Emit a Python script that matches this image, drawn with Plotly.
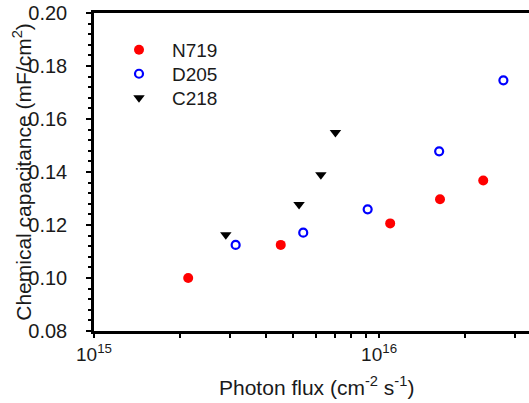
import plotly.graph_objects as go

# Data
n719_x = [2.14e15, 4.52e15, 1.094e16, 1.636e16, 2.32e16]
n719_y = [0.100, 0.1125, 0.1206, 0.1297, 0.1368]

d205_x = [3.14e15, 5.42e15, 9.12e15, 1.625e16, 2.73e16]
d205_y = [0.1125, 0.1171, 0.1259, 0.1478, 0.1746]

c218_x = [2.90e15, 5.24e15, 6.25e15, 7.03e15]
c218_y = [0.1163, 0.1277, 0.1390, 0.1549]

x_tickvals = [1e15, 2e15, 3e15, 4e15, 5e15, 6e15, 7e15, 8e15, 9e15, 1e16, 2e16, 3e16]
x_ticktext = ["10<sup>15</sup>", "", "", "", "", "", "", "", "", "10<sup>16</sup>", "", ""]
y_tickvals = [0.08, 0.10, 0.12, 0.14, 0.16, 0.18, 0.20]
y_ticktext = ["0.08", "0.10", "0.12", "0.14", "0.16", "0.18", "0.20"]

FONT = "Liberation Sans, Arial, sans-serif"
TXT = "#1a1a1a"

fig = go.Figure()
fig.add_trace(go.Scatter(x=n719_x, y=n719_y, mode="markers", name="N719", legend="legend",
                         marker=dict(symbol="circle", size=10, color="#FF0000")))
fig.add_trace(go.Scatter(x=d205_x, y=d205_y, mode="markers", name="D205", legend="legend2",
                         marker=dict(symbol="circle-open", size=8, color="#0000FF",
                                     line=dict(width=2.2, color="#0000FF"))))
fig.add_trace(go.Scatter(x=c218_x, y=c218_y, mode="markers", name="C218", legend="legend3",
                         marker=dict(symbol="triangle-down", size=10, color="#000000")))

leg_common = dict(xanchor="left", yanchor="middle", bgcolor="rgba(0,0,0,0)",
                  font=dict(size=19, color=TXT, family=FONT), itemwidth=56, borderwidth=0)

PW, PH = 435, 318.5  # plot area size in px

fig.update_layout(
    template="none",
    width=529, height=403,
    margin=dict(l=94, r=0, t=13, b=71.5, pad=0),
    paper_bgcolor="white", plot_bgcolor="white",
    font=dict(family=FONT, size=19, color=TXT),
    showlegend=True,
    legend=dict(x=0.0276, y=0.884, **leg_common),
    legend2=dict(x=0.0276, y=0.8085, **leg_common),
    legend3=dict(x=0.0276, y=0.733, **leg_common),
    xaxis=dict(type="log", range=[15, 16.526], showgrid=False, zeroline=False,
               automargin=False, ticklabeloverflow="allow",
               showline=True, linecolor="black", linewidth=2.5, mirror=True,
               ticks="outside", ticklen=4, tickwidth=2, tickcolor="black",
               tickvals=x_tickvals, ticktext=x_ticktext,
               tickfont=dict(size=19, color=TXT), ticklabelstandoff=0),
    yaxis=dict(range=[0.08, 0.20], showgrid=False, zeroline=False,
               automargin=False, ticklabeloverflow="allow",
               showline=True, linecolor="black", linewidth=2.5, mirror=False,
               ticks="outside", ticklen=5, tickwidth=2, tickcolor="black",
               tickvals=y_tickvals, ticktext=y_ticktext,
               tickfont=dict(size=20, color=TXT), ticklabelstandoff=15,
               minor=dict(ticks="outside", ticklen=3, tickwidth=2, tickcolor="black",
                          dtick=0.004)),
    annotations=[
        dict(text="Photon flux (cm<sup>-2</sup> s<sup>-1</sup>)", xref="paper", yref="paper",
             x=(316 - 94) / PW, y=-(387 - 331.5) / PH, xanchor="center", yanchor="middle",
             showarrow=False, font=dict(size=21, color=TXT)),
        dict(text="Chemical capacitance (mF/cm<sup>2</sup>)", xref="paper", yref="paper",
             x=-(94 - 22) / PW, y=1 - (172 - 13) / PH, xanchor="center", yanchor="middle",
             showarrow=False, textangle=-90, font=dict(size=21, color=TXT)),
    ],
)

fig.write_html("out.html", config={"displayModeBar": False},
               post_script="document.body.style.margin='0';document.body.style.overflow='hidden';")
